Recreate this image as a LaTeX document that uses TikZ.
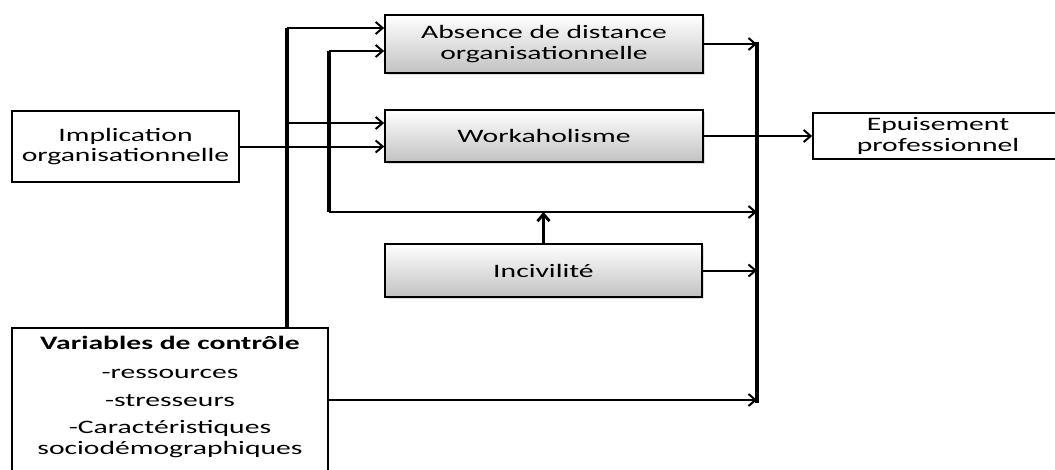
\documentclass[tikz,border=0pt]{standalone}
\usepackage{fontspec}
\setmainfont{Carlito}[FakeStretch=1.56]
\usetikzlibrary{arrows.meta,shadows}
\begin{document}
\begin{tikzpicture}[x=1pt,y=-1pt,
  every node/.style={font=\fontsize{19}{20.5}\selectfont, align=center, inner sep=0pt},
  gbox/.style={draw, line width=1.6pt, top color=white, bottom color=black!24,
     drop shadow={opacity=0.25, shadow xshift=2pt, shadow yshift=-2pt}},
  wbox/.style={draw, line width=1.6pt, fill=white},
  arr/.style={line width=2pt, -{Straight Barb[length=7pt,width=12pt]}},
  thickline/.style={line width=3.2pt}]
\useasboundingbox (0,0) rectangle (1055,469);
\clip (0,0) rectangle (1055,469);
% nodes
\node[wbox, minimum width=227pt, minimum height=71pt] (impl) at (125.5,146.5) {Implication\\organisationnelle};
\node[gbox, minimum width=318pt, minimum height=58pt] (abs) at (544,44) {Absence de distance\\organisationnelle};
\node[gbox, minimum width=318pt, minimum height=52pt] (work) at (544,136) {Workaholisme};
\node[gbox, minimum width=317pt, minimum height=53pt] (inc) at (543.5,270.5) {Incivilité};
\node[wbox, minimum width=250pt, minimum height=46pt] (epu) at (938,136) {Epuisement\\professionnel};
\node[wbox, minimum width=316pt, minimum height=160pt, anchor=north] (var) at (170,327) {};
\node (vartxt) [anchor=north] at (170,336) {\textbf{Variables de contrôle}\\[8.5pt]-ressources\\[7.5pt]-stresseurs\\[6.5pt]-Caractéristiques\\sociodémographiques};
% coordinates
\coordinate (L1top) at (287,28);
\coordinate (L1mid) at (287,123);
\coordinate (L2top) at (329,51);
\coordinate (L2bot) at (329,212);
\coordinate (bartop) at (757,42);
\coordinate (barbot) at (757,403);
\coordinate (varout) at (757,400);
% bars
\draw[thickline] (bartop) -- (barbot);
\draw[thickline] (var.north -| L1top) -- (L1top);
\draw[thickline] (L2top) -- (L2bot);
% branches
\draw[arr] (L1top) -- (L1top -| abs.west);
\draw[arr] (L1mid) -- (L1mid -| work.west);
\draw[arr] (L2top) -- (L2top -| abs.west);
\draw[arr] (impl.east) -- (impl.east -| work.west);
\draw[arr] (L2bot) -- (L2bot -| bartop);
\draw[line width=2.8pt, -{Straight Barb[length=7pt,width=12pt]}] (inc.north) -- (inc.north |- L2bot);
\draw[arr] (abs.east) -- (abs.east -| bartop);
\draw[arr] (work.east) -- (epu.west);
\draw[arr] (inc.east) -- (inc.east -| bartop);
\draw[arr] (var.east |- varout) -- (varout);
\end{tikzpicture}
\end{document}
